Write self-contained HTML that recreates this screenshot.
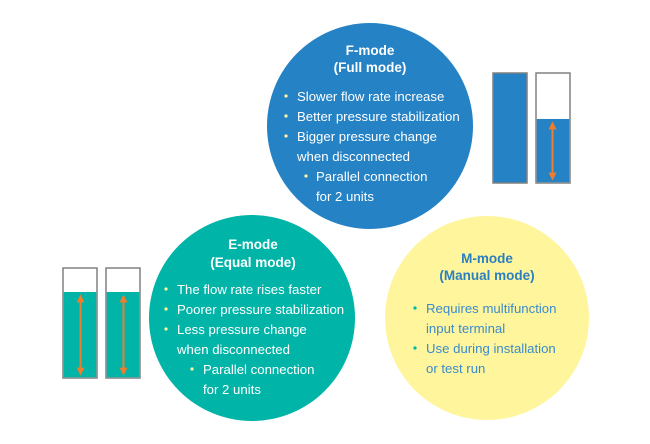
<!DOCTYPE html>
<html><head><meta charset="utf-8"><style>
html,body{margin:0;padding:0;background:#fff;}
svg{display:block;font-family:"Liberation Sans",sans-serif;}
</style></head><body>
<svg width="650" height="444" viewBox="0 0 650 444" xmlns="http://www.w3.org/2000/svg">
<defs>
<marker id="a" viewBox="0 0 10 10" refX="8" refY="5" markerWidth="4" markerHeight="4" orient="auto-start-reverse"><path d="M0,0L10,5L0,10z" fill="#ee7d2e"/></marker>
</defs>
<circle cx="370" cy="126" r="103" fill="#2582c5"/>
<circle cx="252" cy="318" r="103" fill="#00b4a8"/>
<circle cx="487" cy="318" r="102" fill="#fff59c"/>

<rect x="493" y="73" width="34" height="110" fill="#2582c5" stroke="#808080" stroke-width="1.5"/>
<rect x="536" y="73" width="34" height="110" fill="#fff" stroke="#808080" stroke-width="1.5"/>
<rect x="536.75" y="119" width="32.5" height="63.25" fill="#2582c5"/>
<line x1="552.5" y1="123" x2="552.5" y2="179" stroke="#ee7d2e" stroke-width="2" marker-start="url(#a)" marker-end="url(#a)"/>

<rect x="63" y="268" width="34" height="110" fill="#fff" stroke="#808080" stroke-width="1.5"/>
<rect x="63.75" y="292" width="32.5" height="85.25" fill="#00b4a8"/>
<rect x="106" y="268" width="34" height="110" fill="#fff" stroke="#808080" stroke-width="1.5"/>
<rect x="106.75" y="292" width="32.5" height="85.25" fill="#00b4a8"/>
<line x1="80.5" y1="296" x2="80.5" y2="374" stroke="#ee7d2e" stroke-width="2" marker-start="url(#a)" marker-end="url(#a)"/>
<line x1="123.5" y1="296" x2="123.5" y2="374" stroke="#ee7d2e" stroke-width="2" marker-start="url(#a)" marker-end="url(#a)"/>

<g font-size="13.2" fill="#fff">
<text x="370" y="55" text-anchor="middle" font-weight="bold" font-size="13.5">F-mode</text>
<text x="370" y="72" text-anchor="middle" font-weight="bold" font-size="13.5">(Full mode)</text>
<g fill="#fff7a0"><circle cx="286" cy="96" r="1.6"/><circle cx="286" cy="116" r="1.6"/><circle cx="286" cy="136" r="1.6"/><circle cx="306" cy="176" r="1.6"/></g>
<text x="297" y="101">Slower flow rate increase</text>
<text x="297" y="121">Better pressure stabilization</text>
<text x="297" y="141">Bigger pressure change</text>
<text x="297" y="161">when disconnected</text>
<text x="316" y="181">Parallel connection</text>
<text x="316" y="201">for 2 units</text>

<text x="253" y="249" text-anchor="middle" font-weight="bold" font-size="13.5">E-mode</text>
<text x="253" y="267" text-anchor="middle" font-weight="bold" font-size="13.5">(Equal mode)</text>
<g fill="#fff7a0"><circle cx="166" cy="289" r="1.6"/><circle cx="166" cy="309" r="1.6"/><circle cx="166" cy="329" r="1.6"/><circle cx="192" cy="369" r="1.6"/></g>
<text x="177" y="294">The flow rate rises faster</text>
<text x="177" y="314">Poorer pressure stabilization</text>
<text x="177" y="334">Less pressure change</text>
<text x="177" y="354">when disconnected</text>
<text x="203" y="374">Parallel connection</text>
<text x="203" y="394">for 2 units</text>
</g>

<g font-size="13.2" fill="#3a8ccc">
<text x="487" y="263" text-anchor="middle" font-weight="bold" font-size="13.5" fill="#2a7fc0">M-mode</text>
<text x="487" y="280" text-anchor="middle" font-weight="bold" font-size="13.5" fill="#2a7fc0">(Manual mode)</text>
<g fill="#00b4a8"><circle cx="415" cy="308" r="1.6"/><circle cx="415" cy="348" r="1.6"/></g>
<text x="426" y="313">Requires multifunction</text>
<text x="426" y="333">input terminal</text>
<text x="426" y="353">Use during installation</text>
<text x="426" y="373">or test run</text>
</g>
</svg>
</body></html>
